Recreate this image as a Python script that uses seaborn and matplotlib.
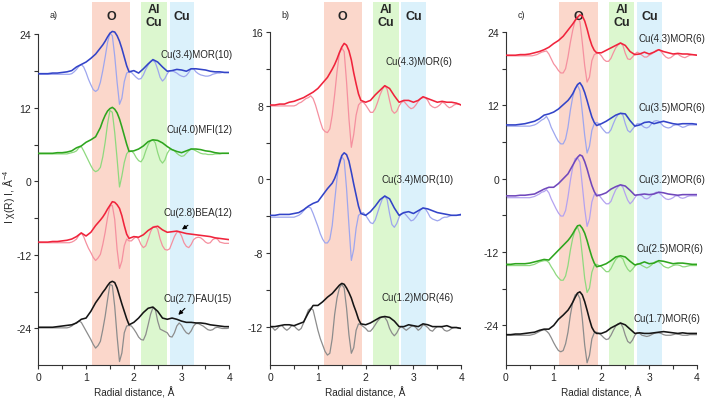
import numpy as np
import matplotlib
matplotlib.use("Agg")
import matplotlib.pyplot as plt
import seaborn as sns

sns.set_style("ticks")
plt.rcParams["font.family"] = ["Liberation Sans", "DejaVu Sans"]
plt.rcParams["mathtext.default"] = "regular"

# sampling grids of the curves (radial distance, A)
# magnitude: every 0.1, plus the half steps across the first shell
r_mag = np.array([0.0, 0.1, 0.2, 0.3, 0.4, 0.5, 0.6, 0.7, 0.8, 0.9,
                  1.0, 1.1, 1.2, 1.3, 1.35, 1.4, 1.45, 1.5, 1.55, 1.6,
                  1.65, 1.7, 1.75, 1.8, 1.85, 1.9,
                  2.0, 2.1, 2.2, 2.3, 2.4, 2.5, 2.6, 2.7, 2.8, 2.9,
                  3.0, 3.1, 3.2, 3.3, 3.4, 3.5, 3.6, 3.7, 3.8, 3.9,
                  4.0])
# imaginary part: every 0.05
r_im = np.round(np.arange(0, 4.001, 0.05), 2)

# ---------------- panel a ----------------
a_mor10_mag = [17.6, 17.6, 17.6, 17.7, 17.7, 17.8, 17.9, 18.1, 18.7, 19.1,
               19.5, 20.1, 20.8, 21.8, 22.3, 22.9, 23.6, 24.2, 24.5, 24.4, 23.8, 22.9, 21.7, 20.3, 18.9, 17.9,
               18.1, 17.7, 18.4, 19.2, 19.9, 19.5, 18.7, 18.0, 18.1, 18.3,
               18.2, 18.0, 18.4, 18.4, 18.3, 18.2, 18.0, 17.9, 17.9, 17.8,
               17.8]
a_mor10_im = [17.5, 17.5, 17.5, 17.5, 17.5, 17.5, 17.5, 17.5, 17.5, 17.5,
              17.5, 17.5, 17.5, 17.5, 17.6, 17.9, 18.3, 18.8, 19.1, 18.7,
              17.8, 16.7, 15.8, 15.0, 14.7, 15.0, 16.2, 18.1, 20.3, 22.7,
              24.2, 23.8, 20.5, 16.2, 12.6, 13.6, 16.3, 17.7, 17.9, 17.8,
              17.4, 17.0, 16.7, 16.8, 17.4, 18.3, 19.0, 19.6, 19.8, 19.4,
              18.3, 17.0, 16.4, 16.8, 17.6, 18.1, 18.1, 17.9, 17.7, 17.4,
              17.2, 17.1, 17.3, 17.8, 18.4, 18.4, 17.9, 17.6, 17.4, 17.3,
              17.2, 17.2, 17.3, 17.5, 17.6, 17.7, 17.7, 17.8, 17.8, 17.8,
              17.8]
a_mfi12_mag = [4.6, 4.6, 4.6, 4.6, 4.7, 4.7, 4.8, 5.0, 5.5, 5.8,
               6.4, 6.8, 7.3, 8.8, 9.9, 10.8, 11.5, 11.9, 12.1, 11.8, 11.2, 10.2, 8.9, 7.5, 6.1, 4.9,
               5.0, 5.3, 5.8, 6.5, 6.8, 6.7, 6.3, 5.7, 5.2, 4.9,
               4.7, 5.0, 5.3, 5.3, 5.2, 5.0, 4.9, 4.7, 4.6, 4.6,
               4.6]
a_mfi12_im = [4.5, 4.5, 4.5, 4.5, 4.5, 4.5, 4.5, 4.5, 4.5, 4.5,
              4.5, 4.5, 4.5, 4.6, 4.7, 4.8, 5.0, 5.5, 5.7, 5.0,
              4.2, 3.4, 2.6, 1.9, 1.6, 1.8, 2.3, 4.0, 6.4, 9.4,
              11.6, 11.3, 8.0, 3.7, -0.9, 0.9, 3.1, 4.5, 5.0, 5.0,
              4.6, 3.9, 3.4, 3.2, 3.8, 5.0, 6.0, 6.7, 6.8, 6.3,
              4.7, 3.5, 3.0, 3.5, 4.6, 5.2, 5.2, 5.0, 4.6, 4.3,
              4.1, 4.2, 4.6, 5.0, 5.3, 5.2, 5.0, 4.8, 4.6, 4.5,
              4.5, 4.4, 4.4, 4.4, 4.5, 4.5, 4.5, 4.6, 4.6, 4.6,
              4.6]
a_bea12_mag = [-9.9, -9.9, -9.9, -9.8, -9.8, -9.7, -9.6, -9.4, -9.0, -8.4,
               -8.9, -8.3, -7.2, -6.3, -5.8, -5.2, -4.5, -3.9, -3.3, -3.4, -3.8, -4.4, -5.6, -7.2, -8.6, -9.3,
               -9.0, -9.1, -8.7, -8.0, -7.5, -7.3, -7.9, -8.3, -8.2, -8.1,
               -8.3, -8.5, -8.6, -8.7, -8.8, -8.9, -9.0, -9.2, -9.3, -9.4,
               -9.5]
a_bea12_im = [-10.0, -10.0, -10.0, -10.0, -10.0, -10.0, -10.0, -10.0, -10.0, -10.0,
              -10.0, -10.0, -10.0, -10.0, -9.9, -9.7, -9.4, -8.8, -8.4, -9.0,
              -10.0, -10.9, -11.6, -12.4, -12.9, -12.5, -11.9, -10.3, -8.3, -5.9,
              -4.0, -3.9, -6.2, -11.1, -14.2, -13.0, -10.5, -9.4, -9.7, -9.7,
              -9.3, -9.0, -9.4, -10.3, -10.8, -10.5, -9.4, -8.2, -7.4, -7.3,
              -7.8, -9.4, -10.5, -11.1, -11.2, -11.0, -10.0, -9.0, -8.3, -8.2,
              -8.9, -10.0, -10.6, -10.8, -10.3, -9.5, -9.2, -9.1, -9.2, -9.5,
              -9.9, -10.1, -10.0, -9.5, -9.3, -9.4, -9.9, -10.0, -10.1, -10.1,
              -10.1]
a_fau15_mag = [-23.8, -23.8, -23.8, -23.8, -23.7, -23.6, -23.5, -23.4, -23.1, -22.5,
               -22.3, -21.2, -19.8, -18.7, -18.1, -17.6, -17.0, -16.5, -16.3, -16.5, -17.4, -18.7, -20.0, -21.2, -22.4, -23.4,
               -23.0, -22.3, -21.4, -20.7, -20.5, -21.2, -22.3, -22.5, -22.3, -22.5,
               -22.8, -23.0, -23.0, -23.1, -23.1, -23.2, -23.4, -23.5, -23.6, -23.7,
               -23.7]
a_fau15_im = [-23.9, -23.9, -23.9, -23.9, -23.9, -23.9, -23.9, -23.9, -23.9, -23.9,
              -23.9, -23.9, -23.9, -23.8, -23.6, -23.3, -23.0, -22.8, -23.0, -23.7,
              -24.4, -25.1, -25.8, -26.6, -27.2, -26.8, -26.1, -24.2, -22.0, -19.3,
              -16.8, -17.0, -20.4, -25.3, -29.4, -28.0, -24.7, -23.6, -23.5, -23.6,
              -24.1, -24.7, -25.4, -25.8, -25.9, -25.0, -23.4, -21.7, -20.6, -20.9,
              -22.8, -24.1, -24.3, -24.5, -24.7, -25.3, -25.4, -24.7, -23.6, -23.1,
              -23.5, -24.2, -24.7, -24.9, -24.4, -23.6, -23.2, -23.2, -23.4, -23.6,
              -23.9, -24.2, -24.3, -24.2, -23.9, -23.8, -23.9, -24.0, -24.0, -24.0,
              -23.9]

# ---------------- panel b ----------------
b_mor6_mag = [8.1, 8.1, 8.2, 8.2, 8.4, 8.5, 8.7, 8.9, 9.2, 9.5,
              9.9, 10.5, 11.1, 12.0, 12.5, 13.1, 13.8, 14.4, 14.8, 14.6, 14.0, 13.0, 11.6, 10.4, 9.3, 8.6,
              8.4, 8.6, 9.2, 9.7, 10.2, 9.9, 9.1, 8.4, 8.6, 8.6,
              8.4, 8.6, 9.0, 8.8, 8.6, 8.4, 8.5, 8.4, 8.4, 8.3,
              8.1]
b_mor6_im = [8.0, 8.0, 8.0, 8.0, 8.0, 8.0, 8.0, 8.0, 8.0, 8.0,
             8.0, 8.1, 8.3, 8.4, 8.6, 8.8, 8.9, 9.1, 8.8, 8.1,
             7.2, 6.3, 5.5, 5.2, 5.1, 5.5, 7.0, 9.2, 11.7, 13.7,
             14.3, 13.9, 10.6, 6.6, 3.5, 4.9, 7.0, 8.1, 8.4, 8.4,
             8.1, 7.7, 7.3, 7.3, 7.7, 8.4, 9.2, 9.8, 10.2, 9.8,
             8.6, 7.5, 7.2, 7.4, 8.0, 8.4, 8.5, 8.2, 7.9, 7.7,
             7.8, 8.1, 8.5, 8.8, 8.9, 8.9, 8.6, 8.1, 7.9, 7.8,
             7.9, 8.1, 8.4, 8.3, 8.0, 7.8, 7.9, 8.1, 8.2, 8.2,
             8.1]
b_mor10_mag = [-3.9, -3.9, -3.8, -3.8, -3.8, -3.7, -3.6, -3.3, -2.9, -2.6,
               -2.4, -1.7, -1.0, -0.4, 0.1, 0.8, 1.7, 2.6, 2.9, 2.7, 2.0, 0.8, -0.5, -1.7, -2.9, -3.7,
               -3.9, -3.5, -2.9, -2.2, -1.8, -2.1, -3.1, -3.9, -3.6, -3.5,
               -3.7, -3.4, -3.1, -3.2, -3.4, -3.6, -3.7, -3.8, -3.9, -3.9,
               -3.8]
b_mor10_im = [-4.1, -4.1, -4.1, -4.1, -4.1, -4.1, -4.1, -4.1, -4.1, -4.1,
              -4.1, -4.0, -3.9, -3.7, -3.4, -3.1, -3.0, -3.1, -3.7, -4.4,
              -5.1, -5.9, -6.5, -6.9, -6.9, -6.5, -5.0, -2.4, 0.1, 2.1,
              2.5, 2.1, -1.0, -5.0, -8.8, -7.6, -5.3, -3.9, -3.7, -3.6,
              -3.9, -4.3, -4.7, -4.8, -4.4, -3.6, -2.8, -2.1, -1.8, -2.2,
              -3.7, -4.9, -5.2, -4.8, -4.1, -3.7, -3.6, -3.9, -4.2, -4.5,
              -4.4, -4.1, -3.7, -3.3, -3.1, -3.2, -3.6, -4.1, -4.3, -4.4,
              -4.5, -4.4, -4.2, -4.1, -4.1, -4.0, -3.9, -3.9, -3.9, -3.9,
              -3.9]
b_mor46_mag = [-16.0, -16.0, -15.9, -15.8, -15.8, -15.9, -15.7, -15.5, -14.5, -13.7,
               -13.7, -13.3, -12.8, -12.4, -12.1, -11.8, -11.5, -11.3, -11.4, -11.8, -12.3, -12.9, -13.7, -14.4, -15.2, -15.7,
               -15.8, -15.6, -15.3, -15.0, -14.9, -15.0, -15.4, -16.0, -16.0, -15.8,
               -15.9, -16.0, -15.7, -15.8, -16.0, -16.0, -16.0, -15.9, -16.1, -16.1,
               -16.2]
b_mor46_im = [-16.0, -16.1, -16.4, -16.2, -15.9, -15.9, -16.2, -16.4, -16.2, -15.9,
              -15.9, -16.2, -16.4, -16.2, -15.6, -14.9, -14.2, -14.0, -14.2, -15.3,
              -16.4, -17.3, -18.0, -18.7, -19.1, -18.9, -17.3, -14.7, -12.9, -11.8,
              -11.4, -11.8, -14.0, -16.9, -18.9, -18.3, -16.4, -15.7, -15.8, -16.0,
              -16.2, -16.5, -16.5, -16.2, -15.8, -15.4, -15.1, -14.9, -15.0, -15.4,
              -16.2, -16.7, -17.0, -16.7, -16.2, -16.0, -16.2, -16.4, -16.2, -16.0,
              -15.9, -16.1, -16.4, -16.2, -15.8, -15.9, -16.1, -16.4, -16.5, -16.2,
              -16.0, -16.0, -16.1, -16.4, -16.5, -16.4, -16.2, -16.1, -16.1, -16.2,
              -16.2]

# ---------------- panel c ----------------
c_43_mag = [20.2, 20.2, 20.2, 20.3, 20.3, 20.4, 20.6, 20.8, 21.1, 21.5,
            22.1, 22.6, 23.3, 24.3, 24.8, 25.3, 25.9, 26.4, 26.8, 26.6, 25.8, 24.5, 23.0, 21.8, 21.0, 20.6,
            20.6, 21.0, 21.4, 21.8, 22.2, 21.8, 20.8, 20.3, 20.4, 20.7,
            20.4, 20.7, 21.1, 20.8, 20.6, 20.4, 20.5, 20.4, 20.4, 20.3,
            20.2]
c_43_im = [20.1, 20.1, 20.1, 20.1, 20.1, 20.1, 20.1, 20.1, 20.1, 20.1,
           20.1, 20.1, 20.2, 20.3, 20.5, 20.7, 20.8, 20.9, 20.4, 19.6,
           18.8, 18.3, 17.7, 17.3, 17.3, 18.0, 19.9, 22.3, 24.3, 25.9,
           26.3, 25.7, 22.3, 18.5, 15.8, 16.6, 19.3, 20.3, 20.5, 20.5,
           20.1, 19.5, 19.2, 19.2, 19.7, 20.6, 21.4, 21.9, 22.2, 21.8,
           20.5, 19.6, 19.5, 19.9, 20.4, 20.7, 20.5, 20.2, 19.9, 19.9,
           20.2, 20.4, 20.7, 21.0, 21.1, 20.8, 20.3, 19.9, 19.7, 19.8,
           20.1, 20.4, 20.4, 20.1, 19.9, 19.8, 20.0, 20.2, 20.3, 20.3,
           20.2]
c_35_mag = [8.8, 8.8, 8.8, 8.9, 9.0, 9.2, 9.4, 9.8, 10.4, 10.6,
            10.9, 11.4, 12.1, 12.8, 13.3, 13.9, 14.7, 15.4, 15.7, 15.1, 14.1, 12.8, 11.4, 10.1, 9.2, 8.7,
            9.0, 9.4, 9.9, 10.4, 10.7, 10.6, 9.5, 8.6, 8.8, 9.2,
            9.3, 9.0, 9.2, 9.4, 9.2, 9.0, 8.9, 9.0, 9.0, 9.0,
            8.9]
c_35_im = [8.6, 8.6, 8.6, 8.6, 8.6, 8.6, 8.6, 8.6, 8.6, 8.6,
           8.6, 8.7, 8.8, 9.0, 9.3, 9.6, 9.8, 10.2, 9.5, 8.4,
           7.6, 6.8, 6.1, 5.7, 5.7, 6.5, 8.4, 11.2, 13.4, 14.8,
           15.3, 14.4, 10.9, 7.1, 4.2, 5.3, 7.9, 9.0, 9.2, 9.0,
           8.4, 7.9, 7.5, 7.5, 8.0, 9.0, 9.9, 10.5, 10.7, 10.4,
           9.0, 7.9, 7.6, 8.1, 8.6, 9.0, 9.0, 8.7, 8.4, 8.3,
           8.5, 9.0, 9.4, 9.5, 9.4, 9.0, 8.6, 8.4, 8.3, 8.4,
           8.7, 8.8, 8.8, 8.6, 8.4, 8.5, 8.7, 8.8, 8.8, 8.8,
           8.8]
c_32_mag = [-2.8, -2.8, -2.8, -2.7, -2.7, -2.6, -2.5, -2.1, -1.7, -1.4,
            -1.4, -0.8, 0.0, 0.8, 1.5, 2.2, 2.9, 3.5, 3.9, 3.7, 2.8, 1.6, 0.2, -1.1, -2.1, -2.8,
            -2.6, -2.3, -1.7, -1.3, -1.0, -1.2, -1.9, -2.7, -2.6, -2.5,
            -2.6, -2.5, -2.2, -2.3, -2.5, -2.6, -2.7, -2.6, -2.6, -2.6,
            -2.6]
c_32_im = [-3.1, -3.1, -3.1, -3.1, -3.1, -3.1, -3.1, -3.1, -3.1, -3.1,
           -3.1, -3.0, -2.9, -2.7, -2.5, -2.2, -2.1, -1.8, -2.3, -3.3,
           -4.1, -4.9, -5.6, -6.1, -6.1, -5.2, -3.0, -0.3, 1.9, 3.3,
           3.4, 2.7, -1.1, -4.9, -7.8, -6.6, -3.8, -2.6, -2.5, -2.7,
           -3.2, -3.7, -4.1, -4.1, -3.7, -2.7, -1.8, -1.3, -1.0, -1.4,
           -2.5, -3.5, -4.1, -3.7, -3.1, -2.6, -2.6, -2.8, -3.2, -3.3,
           -3.1, -2.7, -2.4, -2.2, -2.3, -2.6, -3.0, -3.3, -3.4, -3.3,
           -3.1, -2.8, -2.8, -3.1, -3.2, -3.1, -2.9, -2.8, -2.8, -2.8,
           -2.8]
c_25_mag = [-14.0, -14.0, -13.9, -13.9, -13.9, -13.8, -13.6, -13.4, -13.2, -13.3,
            -12.5, -11.7, -10.9, -10.1, -9.6, -9.0, -8.3, -7.7, -7.6, -8.1, -8.9, -10.1, -11.5, -12.8, -13.8, -14.4,
            -14.2, -13.9, -13.4, -12.8, -12.6, -12.8, -13.5, -14.1, -13.9, -13.6,
            -13.9, -13.8, -13.4, -13.5, -13.7, -13.9, -13.8, -13.8, -13.9, -14.0,
            -14.0]
c_25_im = [-14.2, -14.2, -14.2, -14.2, -14.2, -14.2, -14.2, -14.2, -14.2, -14.2,
           -14.2, -14.1, -14.0, -13.8, -13.6, -13.5, -13.4, -13.4, -13.7, -14.4,
           -15.0, -15.7, -16.2, -16.6, -16.6, -15.9, -14.2, -11.7, -9.7, -8.4,
           -7.9, -9.0, -12.5, -16.3, -18.6, -17.9, -15.3, -14.2, -14.0, -14.2,
           -14.4, -14.8, -15.2, -15.2, -14.7, -13.9, -13.2, -12.8, -12.8, -13.1,
           -14.1, -14.8, -15.2, -14.8, -14.3, -13.9, -13.9, -14.2, -14.4, -14.6,
           -14.4, -14.1, -13.7, -13.5, -13.6, -13.9, -14.3, -14.5, -14.6, -14.4,
           -14.2, -14.1, -14.1, -14.2, -14.4, -14.4, -14.3, -14.2, -14.2, -14.2,
           -14.2]
c_17_mag = [-25.5, -25.5, -25.4, -25.4, -25.3, -25.2, -25.1, -24.8, -24.6, -24.6,
            -24.0, -23.0, -22.3, -21.5, -20.9, -20.2, -19.4, -18.7, -18.5, -19.0, -20.1, -21.5, -23.0, -24.3, -25.0, -25.3,
            -25.3, -25.0, -24.4, -24.0, -23.6, -23.9, -24.6, -25.3, -25.2, -25.3,
            -25.3, -25.2, -25.1, -25.0, -25.1, -25.2, -25.3, -25.2, -25.3, -25.3,
            -25.3]
c_17_im = [-25.6, -25.6, -25.6, -25.6, -25.6, -25.6, -25.6, -25.6, -25.6, -25.6,
           -25.6, -25.5, -25.4, -25.2, -25.0, -24.8, -24.7, -24.9, -25.3, -26.0,
           -26.8, -27.5, -28.1, -28.3, -28.1, -27.0, -25.1, -22.3, -20.2, -19.0,
           -18.8, -19.6, -22.9, -27.2, -30.1, -28.9, -26.2, -25.2, -25.1, -25.3,
           -25.6, -26.0, -26.3, -26.2, -25.6, -24.8, -24.1, -23.7, -23.6, -24.3,
           -25.6, -26.6, -26.9, -26.4, -25.6, -25.2, -25.3, -25.6, -25.7, -25.8,
           -25.7, -25.5, -25.3, -25.2, -25.2, -25.3, -25.5, -25.6, -25.6, -25.6,
           -25.5, -25.4, -25.4, -25.5, -25.6, -25.6, -25.6, -25.5, -25.5, -25.5,
           -25.5]

BLUE, BLUE_L = "#3344c8", "#9ea6ee"
GREEN, GREEN_L = "#2ea51e", "#8ed97e"
RED, RED_L = "#f0243c", "#f5909f"
BLACK, BLACK_L = "#151515", "#8c8c8c"
PURPLE, PURPLE_L = "#7048bc", "#b4a2f0"

# (label, magnitude, imaginary part, colours, label x, label y)
panels = [
    dict(tag="a)", ylim=(-30, 29.3), top=24, major=[24, 12, 0, -12, -24],
         ticklabels=["24", "12", "0", "-12", "-24"], minor=[18, 6, -6, -18],
         series=[("Cu(3.4)MOR(10)", a_mor10_mag, a_mor10_im, BLUE, BLUE_L, 4.06, 20.8),
                 ("Cu(4.0)MFI(12)", a_mfi12_mag, a_mfi12_im, GREEN, GREEN_L, 4.06, 8.6),
                 ("Cu(2.8)BEA(12)", a_bea12_mag, a_bea12_im, RED, RED_L, 4.06, -5.0),
                 ("Cu(2.7)FAU(15)", a_fau15_mag, a_fau15_im, BLACK, BLACK_L, 4.06, -19.1)],
         left=0.054),
    dict(tag="b)", ylim=(-20.2, 19.3), top=16, major=[16, 8, 0, -8, -16],
         ticklabels=["16", "8", "0", "-8", "-12"], minor=[12, 4, -4, -12],
         series=[("Cu(4.3)MOR(6)", b_mor6_mag, b_mor6_im, RED, RED_L, 3.82, 12.9),
                 ("Cu(3.4)MOR(10)", b_mor10_mag, b_mor10_im, BLUE, BLUE_L, 3.84, 0.1),
                 ("Cu(1.2)MOR(46)", b_mor46_mag, b_mor46_im, BLACK, BLACK_L, 3.84, -12.8)],
         left=0.381),
    dict(tag="c)", ylim=(-30.5, 28.9), top=24, major=[24, 12, 0, -12, -24],
         ticklabels=["24", "12", "0", "-12", "-24"], minor=[18, 6, -6, -18],
         series=[("Cu(4.3)MOR(6)", c_43_mag, c_43_im, RED, RED_L, 4.17, 23.0),
                 ("Cu(3.5)MOR(6)", c_35_mag, c_35_im, BLUE, BLUE_L, 4.17, 11.8),
                 ("Cu(3.2)MOR(6)", c_32_mag, c_32_im, PURPLE, PURPLE_L, 4.17, 0.0),
                 ("Cu(2.5)MOR(6)", c_25_mag, c_25_im, GREEN, GREEN_L, 4.13, -11.4),
                 ("Cu(1.7)MOR(6)", c_17_mag, c_17_im, BLACK, BLACK_L, 4.07, -22.7)],
         left=0.7135),
]

bands = [(1.12, 1.92, "#fbd7cb", "O"), (2.15, 2.69, "#dcf7cf", "Al\nCu"),
         (2.75, 3.26, "#dbf1fb", "Cu")]

fig = plt.figure(figsize=(7.09, 4.02), dpi=100)

for p in panels:
    ax = fig.add_axes([p["left"], 0.089, 0.2695, 0.9035])
    for x0, x1, col, name in bands:
        ax.axvspan(x0, x1, color=col, lw=0, zorder=0)
        ax.text((x0 + x1) / 2, 0.962, name, transform=ax.get_xaxis_transform(),
                ha="center", va="center", fontsize=9, fontweight="bold",
                linespacing=1.1)
    for name, mag, im, col, col_l, tx, ty in p["series"]:
        assert len(mag) == len(r_mag) and len(im) == len(r_im)
        sns.lineplot(x=r_im, y=im, ax=ax, color=col_l, lw=0.9, estimator=None, zorder=2)
        sns.lineplot(x=r_mag, y=mag, ax=ax, color=col, lw=1.15, estimator=None, zorder=3)
        ax.text(tx, ty, name, ha="right", va="center", fontsize=7)

    ax.set_xlim(0, 4)
    ax.set_ylim(*p["ylim"])
    ax.set_xticks([0, 1, 2, 3, 4])
    ax.set_xticks([0.5, 1.5, 2.5, 3.5], minor=True)
    ax.set_yticks(p["major"])
    ax.set_yticklabels(p["ticklabels"])
    ax.set_yticks(p["minor"], minor=True)
    ax.tick_params(which="both", direction="out", length=3, width=0.8,
                   color="#333333", labelsize=7.5, pad=2)
    for s in ["top", "right"]:
        ax.spines[s].set_visible(False)
    for s in ["left", "bottom"]:
        ax.spines[s].set_linewidth(0.8)
        ax.spines[s].set_color("#333333")
    ax.spines["left"].set_bounds(p["ylim"][0], p["top"])
    ax.set_xlabel("Radial distance, Å", fontsize=7.2, labelpad=3)
    ax.set_ylabel("")
    ax.text(0.08, 0.965, p["tag"], transform=ax.transAxes, ha="center",
            va="center", fontsize=6.5)

# arrows pointing at the Cu-Cu shell in panel a
ax_a = fig.axes[0]
ax_a.annotate("", xy=(2.96, -8.1), xytext=(3.18, -6.9),
              arrowprops=dict(arrowstyle="-|>", color="k", lw=0.8, mutation_scale=6))
ax_a.annotate("", xy=(2.89, -22.1), xytext=(3.11, -20.4),
              arrowprops=dict(arrowstyle="-|>", color="k", lw=0.8, mutation_scale=6))

fig.text(0.012, 0.51, "I χ(R) I, Å$^{-4}$", rotation=90, ha="center",
         va="center", fontsize=7.5)

fig.savefig("out.png", dpi=100)
